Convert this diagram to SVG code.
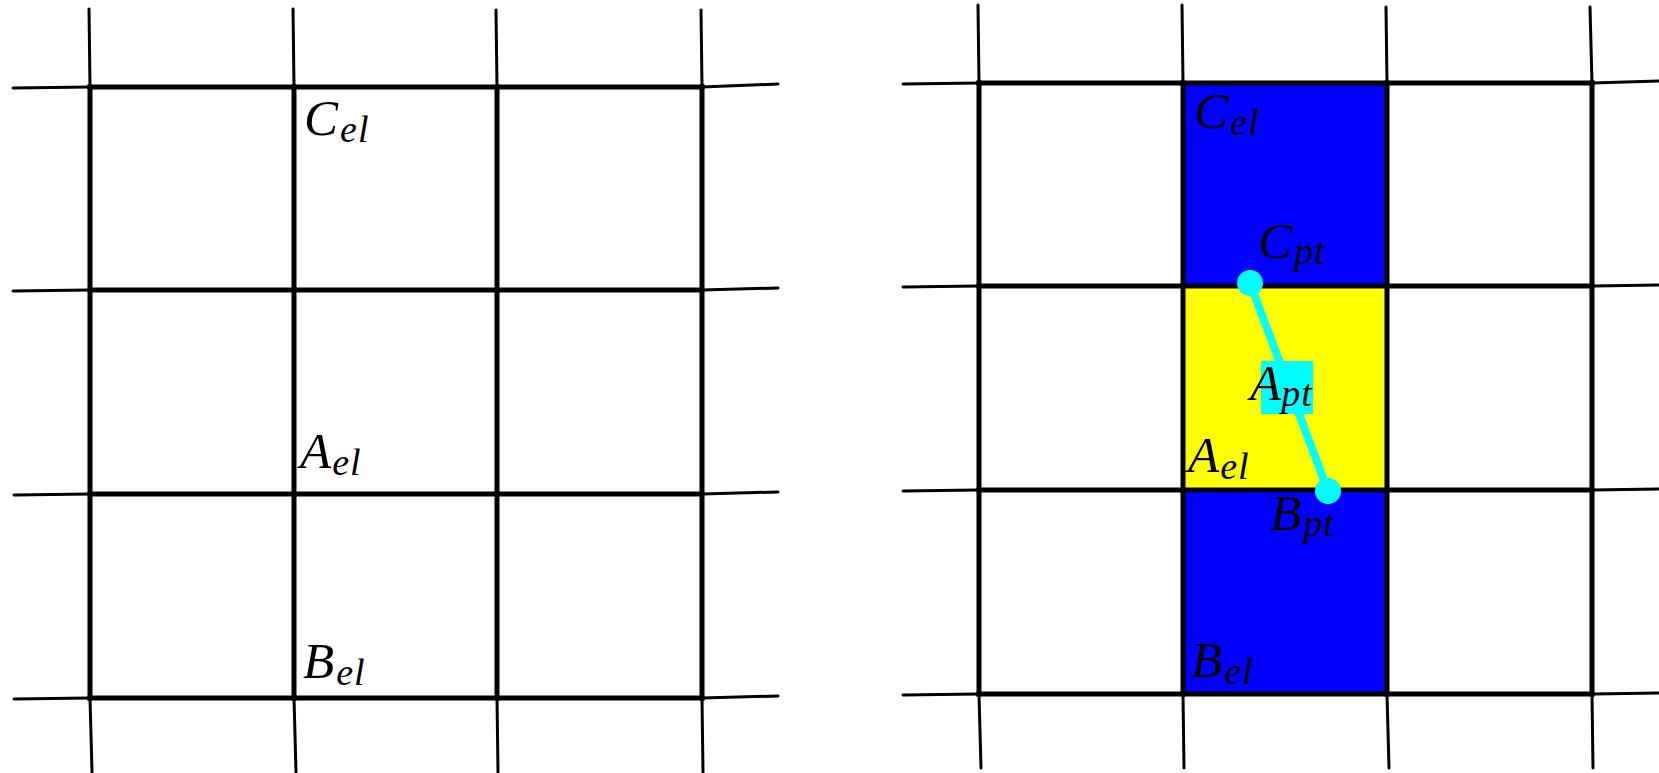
<svg xmlns="http://www.w3.org/2000/svg" width="1659" height="773" viewBox="0 0 1659 773">
<style>
.g{stroke:#000;stroke-width:5;fill:none;stroke-linecap:square}
.t{stroke:#000;stroke-width:3;fill:none;stroke-linecap:round}
.lbl{font-family:"Liberation Serif","DejaVu Serif",serif;font-style:italic;font-size:51px;fill:#000}
.sub{font-size:38px;letter-spacing:1px}
</style>
<rect width="1659" height="773" fill="#fff"/>
<g id="left-grid">
  <g class="t">
    <line x1="89" y1="9" x2="90" y2="87"/><line x1="293" y1="9" x2="294" y2="87"/><line x1="496" y1="10" x2="497" y2="87"/><line x1="701" y1="10" x2="702" y2="87"/>
    <line x1="90" y1="698" x2="92" y2="772"/><line x1="294" y1="698" x2="296" y2="772"/><line x1="497" y1="698" x2="498" y2="772"/><line x1="702" y1="698" x2="703" y2="772"/>
    <line x1="13" y1="88" x2="90" y2="87"/><line x1="13" y1="291" x2="90" y2="290"/><line x1="14" y1="495" x2="90" y2="494"/><line x1="14" y1="699" x2="90" y2="698"/>
    <line x1="702" y1="87" x2="778" y2="84"/><line x1="702" y1="290" x2="778" y2="288"/><line x1="702" y1="494" x2="778" y2="492"/><line x1="702" y1="698" x2="778" y2="696"/>
  </g>
  <g class="g">
    <line x1="90" y1="87" x2="702" y2="87"/><line x1="90" y1="290" x2="702" y2="290"/><line x1="90" y1="494" x2="702" y2="494"/><line x1="90" y1="698" x2="702" y2="698"/>
    <line x1="90" y1="87" x2="90" y2="698"/><line x1="294" y1="87" x2="294" y2="698"/><line x1="497" y1="87" x2="497" y2="698"/><line x1="702" y1="87" x2="702" y2="698"/>
  </g>
</g>
<g id="left-labels">
  <g id="L-Cel"><text class="lbl" x="304" y="135">C<tspan class="sub" dx="2" dy="7">el</tspan></text></g>
  <g id="L-Ael"><text class="lbl" x="300" y="468">A<tspan class="sub" dx="1" dy="7">el</tspan></text></g>
  <g id="L-Bel"><text class="lbl" x="303" y="678">B<tspan class="sub" dx="2" dy="7">el</tspan></text></g>
</g>
<g id="right-grid">
  <rect id="blue-cells" x="1183" y="83" width="204" height="611" fill="#0000ff"/>
  <rect id="yellow-cell" x="1183" y="286" width="204" height="204" fill="#ffff00"/>
  <g class="t">
    <line x1="978" y1="5" x2="979" y2="83"/><line x1="1182" y1="5" x2="1183" y2="83"/><line x1="1386" y1="7" x2="1387" y2="83"/><line x1="1590" y1="7" x2="1592" y2="83"/>
    <line x1="979" y1="694" x2="981" y2="768"/><line x1="1183" y1="694" x2="1184" y2="768"/><line x1="1387" y1="694" x2="1389" y2="768"/><line x1="1592" y1="694" x2="1593" y2="768"/>
    <line x1="903" y1="84" x2="979" y2="83"/><line x1="903" y1="287" x2="979" y2="286"/><line x1="903" y1="491" x2="979" y2="490"/><line x1="903" y1="695" x2="979" y2="694"/>
    <line x1="1592" y1="83" x2="1659" y2="81"/><line x1="1592" y1="286" x2="1659" y2="285"/><line x1="1592" y1="490" x2="1659" y2="489"/><line x1="1592" y1="694" x2="1659" y2="693"/>
  </g>
  <g class="g">
    <line x1="979" y1="83" x2="1592" y2="83"/><line x1="979" y1="286" x2="1592" y2="286"/><line x1="979" y1="490" x2="1592" y2="490"/><line x1="979" y1="694" x2="1592" y2="694"/>
    <line x1="979" y1="83" x2="979" y2="694"/><line x1="1183" y1="83" x2="1183" y2="694"/><line x1="1387" y1="83" x2="1387" y2="694"/><line x1="1592" y1="83" x2="1592" y2="694"/>
  </g>
</g>
<g id="connectors">
  <line x1="1250" y1="283" x2="1328" y2="491" stroke="#00ffff" stroke-width="8"/>
</g>
<g id="C-pt-node"><circle cx="1250" cy="283" r="13" fill="#00ffff"/></g>
<g id="B-pt-node"><circle cx="1328" cy="491" r="13" fill="#00ffff"/></g>
<g id="A-pt-node"><rect x="1261" y="361" width="52" height="53" fill="#00ffff"/></g>
<g id="right-labels">
  <g id="R-Cel"><text class="lbl" x="1194" y="128">C<tspan class="sub" dx="2" dy="7">el</tspan></text></g>
  <g id="R-Cpt"><text class="lbl" x="1258" y="258">C<tspan class="sub" dx="2" dy="6">pt</tspan></text></g>
  <g id="R-Apt"><text class="lbl" x="1250" y="400">A<tspan class="sub" dx="0" dy="6">pt</tspan></text></g>
  <g id="R-Ael"><text class="lbl" x="1188" y="472">A<tspan class="sub" dx="1" dy="7">el</tspan></text></g>
  <g id="R-Bpt"><text class="lbl" x="1270" y="530">B<tspan class="sub" dx="2" dy="6">pt</tspan></text></g>
  <g id="R-Bel"><text class="lbl" x="1191" y="677">B<tspan class="sub" dx="2" dy="7">el</tspan></text></g>
</g>
</svg>
